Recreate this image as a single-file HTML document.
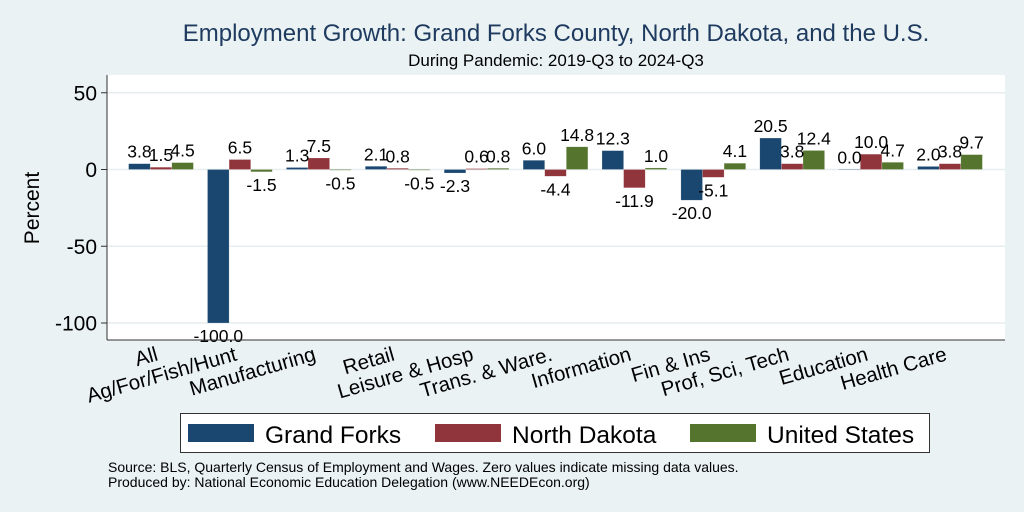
<!DOCTYPE html>
<html><head><meta charset="utf-8"><style>
body{margin:0;background:#eaf2f3;}
svg{display:block;font-family:"Liberation Sans",Arial,sans-serif;}
</style></head><body>
<svg id="chart" width="1024" height="512" viewBox="0 0 1024 512">
<rect x="0" y="0" width="1024" height="512" fill="#eaf2f3"/>
<text x="556" y="41" text-anchor="middle" font-size="24" fill="#1e3a5f">Employment Growth: Grand Forks County, North Dakota, and the U.S.</text>
<text x="556" y="66" text-anchor="middle" font-size="17" fill="#000">During Pandemic: 2019-Q3 to 2024-Q3</text>
<rect x="107" y="75" width="898" height="265" fill="#fff"/>
<g id="grid"></g>
<g id="bars"></g>
<g id="labels"></g>
<line x1="107" y1="75" x2="107" y2="340" stroke="#333" stroke-width="1"/>
<line x1="107" y1="340" x2="1005" y2="340" stroke="#333" stroke-width="1"/>
<text transform="translate(39,208) rotate(-90)" text-anchor="middle" font-size="21" fill="#000">Percent</text>
<g id="xlabels"></g>
<rect x="180.5" y="413.5" width="749" height="39" fill="#fff" stroke="#333" stroke-width="1"/>
<g><rect x="188" y="424" width="66" height="18" fill="#1a476f"/><text x="265" y="443" font-size="24.5">Grand Forks</text></g>
<g><rect x="435" y="424" width="66" height="18" fill="#90353b"/><text x="512" y="443" font-size="24.5">North Dakota</text></g>
<g><rect x="690" y="424" width="66" height="18" fill="#55752f"/><text x="767" y="443" font-size="24.5">United States</text></g>
<text x="108" y="472" font-size="14">Source: BLS, Quarterly Census of Employment and Wages. Zero values indicate missing data values.</text>
<text x="108" y="487" font-size="14">Produced by: National Economic Education Delegation (www.NEEDEcon.org)</text>
</svg>
<script>
const categories=["All","Ag/For/Fish/Hunt","Manufacturing","Retail","Leisure & Hosp","Trans. & Ware.","Information","Fin & Ins","Prof, Sci, Tech","Education","Health Care"];
const grandForks=[3.8,-100.0,1.3,2.1,-2.3,6.0,12.3,-20.0,20.5,0.0,2.0];
const northDakota=[1.5,6.5,7.5,0.8,0.6,-4.4,-11.9,-5.1,3.8,10.0,3.8];
const unitedStates=[4.5,-1.5,-0.5,-0.5,0.8,14.8,1.0,4.1,12.4,4.7,9.7];
const yTicks=[50,0,-50,-100];
const seriesNames=["grand-forks","north-dakota","united-states"];
const colors=["#1a476f","#90353b","#55752f"];
const NS="http://www.w3.org/2000/svg";
const y=v=>169.5-v*1.535;
const groupX=i=>161+i*78.9;
const barW=21.6;
function mk(tag,attrs,parent,text){const e=document.createElementNS(NS,tag);for(const k in attrs)e.setAttribute(k,attrs[k]);if(text!==undefined)e.textContent=text;document.getElementById(parent).appendChild(e);return e;}
yTicks.forEach(t=>{
  const l=mk('line',{x1:107,x2:1005,y1:y(t),y2:y(t),stroke:'#e6eef0','stroke-width':1.5},'grid');
  
  
  const tk=mk('line',{x1:101,x2:107,y1:y(t),y2:y(t),stroke:'#333'},'grid');
  
  
  const tx=mk('text',{x:97,y:y(t)+7.5,'text-anchor':'end','font-size':21},'grid',String(t));
  
  
});
[grandForks,northDakota,unitedStates].forEach((arr,s)=>{
  arr.forEach((v,i)=>{
    const x=groupX(i)+(s-1.5)*barW;
    const top=Math.min(y(v),y(0)), h=Math.abs(y(v)-y(0));
    const r=mk('rect',{x:x,y:top,width:barW,height:Math.max(h,0.5),fill:colors[s],stroke:'#fff','stroke-opacity':0.4,'stroke-width':0.5},'bars');
    
    
    const ly=v>=0?y(v)-6:y(v)+19;
    const t=mk('text',{x:x+barW/2,y:ly,'text-anchor':'middle','font-size':17.5},'labels',v.toFixed(1));
    
    
  });
});
categories.forEach((c,i)=>{
  const cx=groupX(i)-2, cy=360;
  const t=mk('text',{x:cx,y:cy,'text-anchor':'end','font-size':20.5,transform:`rotate(-16 ${cx} ${cy})`},'xlabels',c);
  
  
});
</script>
</body></html>
